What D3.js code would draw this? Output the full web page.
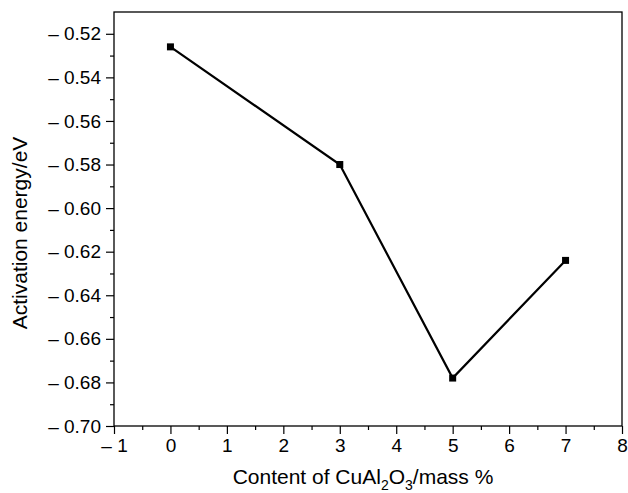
<!DOCTYPE html>
<head>
  <meta charset="utf-8">
  <script src="https://d3js.org/d3.v7.min.js"></script>
  <style>
    body { margin: 0; background: #fff; }
    svg { font-family: "Liberation Sans", Arial, sans-serif; }
  </style>
</head>
<body>
  <svg width="628" height="493"></svg>
  <script>
    // data
    var content = [0, 3, 5, 7];
    var energy = [-0.526, -0.580, -0.678, -0.624];
    var xTicks = [-1, 0, 1, 2, 3, 4, 5, 6, 7, 8];
    var yTicks = [-0.52, -0.54, -0.56, -0.58, -0.60, -0.62, -0.64, -0.66, -0.68, -0.70];

    var plotL = 114, plotR = 622, plotT = 12, plotB = 426;
    var svg = d3.select('svg');

    var x = d3.scaleLinear().domain([-1, 8]).range([plotL, plotR]);
    var y = d3.scaleLinear().domain([-0.70, -0.51]).range([plotB, plotT]);

    function fmt(v, digits) {
      return v < 0 ? '\u2013 ' + Math.abs(v).toFixed(digits) : v.toFixed(digits);
    }

    // frame
    svg.append('rect')
      .attr('x', plotL).attr('y', plotT)
      .attr('width', plotR - plotL).attr('height', plotB - plotT)
      .attr('fill', 'none').attr('stroke', '#000').attr('stroke-width', 1.3);

    // minor ticks
    var xMinor = d3.range(-0.5, 8, 1);
    var yMinor = d3.range(-0.69, -0.51, 0.02);
    svg.append('g').attr('transform', 'translate(0,' + plotB + ')')
      .call(d3.axisBottom(x).tickValues(xMinor).tickSize(4).tickFormat(''))
      .call(function(g) { g.select('.domain').remove(); });
    svg.append('g').attr('transform', 'translate(' + plotL + ',0)')
      .call(d3.axisLeft(y).tickValues(yMinor).tickSize(4).tickFormat(''))
      .call(function(g) { g.select('.domain').remove(); });

    // major ticks
    svg.append('g').attr('transform', 'translate(0,' + plotB + ')')
      .call(d3.axisBottom(x).tickValues(xTicks).tickSize(8).tickPadding(5)
        .tickFormat(function(d) { return fmt(d, 0); }));
    svg.append('g').attr('transform', 'translate(' + plotL + ',0)')
      .call(d3.axisLeft(y).tickValues(yTicks).tickSize(8).tickPadding(5)
        .tickFormat(function(d) { return fmt(d, 2); }));

    svg.selectAll('.domain').remove();
    svg.selectAll('.tick line').attr('stroke', '#000').attr('stroke-width', 1.2);
    svg.selectAll('.tick text')
      .attr('font-family', '"Liberation Sans", Arial, sans-serif')
      .attr('font-size', 19).attr('fill', '#000');

    // line and markers
    var pts = content.map(function(c, i) { return [c, energy[i]]; });
    svg.append('path')
      .datum(pts)
      .attr('fill', 'none')
      .attr('stroke', '#000')
      .attr('stroke-width', 2.2)
      .attr('d', d3.line().x(function(d) { return x(d[0]); }).y(function(d) { return y(d[1]); }));

    svg.selectAll('rect.pt')
      .data(pts).enter().append('rect')
      .attr('class', 'pt')
      .attr('x', function(d) { return x(d[0]) - 3.5; })
      .attr('y', function(d) { return y(d[1]) - 3.5; })
      .attr('width', 7).attr('height', 7)
      .attr('fill', '#000');

    // axis titles
    svg.append('text')
      .attr('transform', 'translate(27,233)rotate(-90)')
      .attr('text-anchor', 'middle')
      .attr('font-size', 21)
      .text('Activation energy/eV');

    var xt = svg.append('text')
      .attr('x', 363)
      .attr('y', 484)
      .attr('text-anchor', 'middle')
      .attr('font-size', 21);
    xt.append('tspan').text('Content of CuAl');
    xt.append('tspan').attr('font-size', 14).attr('dy', 6).text('2');
    xt.append('tspan').attr('dy', -6).text('O');
    xt.append('tspan').attr('font-size', 14).attr('dy', 6).text('3');
    xt.append('tspan').attr('dy', -6).text('/mass %');
  </script>
</body>
